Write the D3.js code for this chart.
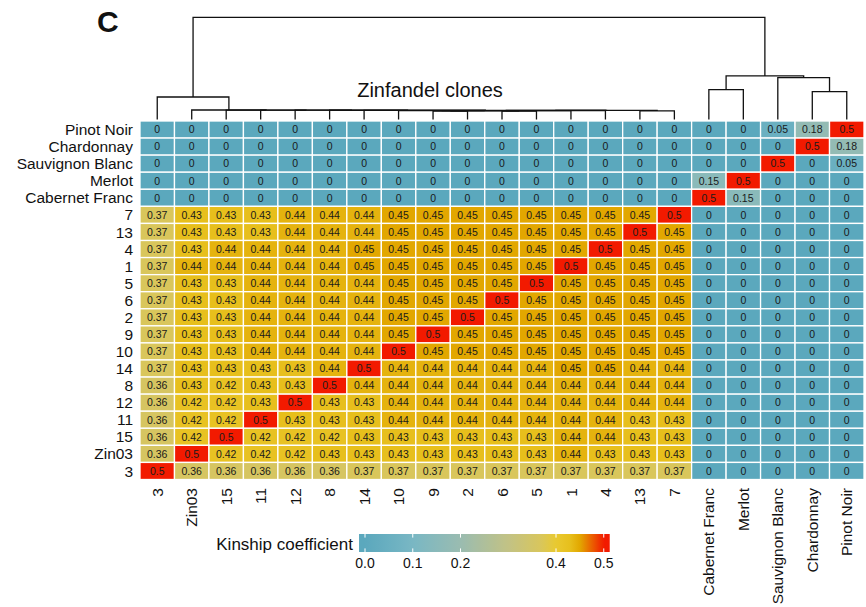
<!DOCTYPE html>
<html><head><meta charset="utf-8">
<script src="https://cdn.jsdelivr.net/npm/d3@7"></script>
<style>
body{margin:0;background:#fff}
svg{display:block}
text{font-family:"Liberation Sans",Arial,Helvetica,sans-serif;fill:#111}
</style>
</head><body>
<svg id="chart" width="866" height="607"></svg>
<script>
// ---------------- data ----------------
const colLabels = ["3","Zin03","15","11","12","8","14","10","9","2","6","5","1","4","13","7",
  "Cabernet Franc","Merlot","Sauvignon Blanc","Chardonnay","Pinot Noir"];
const rowLabels = ["Pinot Noir","Chardonnay","Sauvignon Blanc","Merlot","Cabernet Franc",
  "7","13","4","1","5","6","2","9","10","14","8","12","11","15","Zin03","3"];

// kinship coefficient, one row per rowLabels entry, columns in colLabels order
const kinship = [
  [0,0,0,0,0,0,0,0,0,0,0,0,0,0,0,0, 0,0,0.05,0.18,0.5],
  [0,0,0,0,0,0,0,0,0,0,0,0,0,0,0,0, 0,0,0,0.5,0.18],
  [0,0,0,0,0,0,0,0,0,0,0,0,0,0,0,0, 0,0,0.5,0,0.05],
  [0,0,0,0,0,0,0,0,0,0,0,0,0,0,0,0, 0.15,0.5,0,0,0],
  [0,0,0,0,0,0,0,0,0,0,0,0,0,0,0,0, 0.5,0.15,0,0,0],
  [0.37,0.43,0.43,0.43,0.44,0.44,0.44,0.45,0.45,0.45,0.45,0.45,0.45,0.45,0.45,0.5, 0,0,0,0,0],
  [0.37,0.43,0.43,0.43,0.44,0.44,0.44,0.45,0.45,0.45,0.45,0.45,0.45,0.45,0.5,0.45, 0,0,0,0,0],
  [0.37,0.43,0.44,0.44,0.44,0.44,0.45,0.45,0.45,0.45,0.45,0.45,0.45,0.5,0.45,0.45, 0,0,0,0,0],
  [0.37,0.44,0.44,0.44,0.44,0.44,0.45,0.45,0.45,0.45,0.45,0.45,0.5,0.45,0.45,0.45, 0,0,0,0,0],
  [0.37,0.43,0.43,0.44,0.44,0.44,0.44,0.45,0.45,0.45,0.45,0.5,0.45,0.45,0.45,0.45, 0,0,0,0,0],
  [0.37,0.43,0.43,0.44,0.44,0.44,0.44,0.45,0.45,0.45,0.5,0.45,0.45,0.45,0.45,0.45, 0,0,0,0,0],
  [0.37,0.43,0.43,0.44,0.44,0.44,0.44,0.45,0.45,0.5,0.45,0.45,0.45,0.45,0.45,0.45, 0,0,0,0,0],
  [0.37,0.43,0.43,0.44,0.44,0.44,0.44,0.45,0.5,0.45,0.45,0.45,0.45,0.45,0.45,0.45, 0,0,0,0,0],
  [0.37,0.43,0.43,0.44,0.44,0.44,0.44,0.5,0.45,0.45,0.45,0.45,0.45,0.45,0.45,0.45, 0,0,0,0,0],
  [0.37,0.43,0.43,0.43,0.43,0.44,0.5,0.44,0.44,0.44,0.44,0.44,0.45,0.45,0.44,0.44, 0,0,0,0,0],
  [0.36,0.43,0.42,0.43,0.43,0.5,0.44,0.44,0.44,0.44,0.44,0.44,0.44,0.44,0.44,0.44, 0,0,0,0,0],
  [0.36,0.42,0.42,0.43,0.5,0.43,0.43,0.44,0.44,0.44,0.44,0.44,0.44,0.44,0.44,0.44, 0,0,0,0,0],
  [0.36,0.42,0.42,0.5,0.43,0.43,0.43,0.44,0.44,0.44,0.44,0.44,0.44,0.44,0.43,0.43, 0,0,0,0,0],
  [0.36,0.42,0.5,0.42,0.42,0.42,0.43,0.43,0.43,0.43,0.43,0.43,0.44,0.44,0.43,0.43, 0,0,0,0,0],
  [0.36,0.5,0.42,0.42,0.42,0.43,0.43,0.43,0.43,0.43,0.43,0.43,0.44,0.43,0.43,0.43, 0,0,0,0,0],
  [0.5,0.36,0.36,0.36,0.36,0.36,0.37,0.37,0.37,0.37,0.37,0.37,0.37,0.37,0.37,0.37, 0,0,0,0,0]
];

// dendrogram merges: [left, right, height]; strings = leaves, numbers = earlier merge index
const merges = [
  ["9","2",0.082],            // 0
  ["6","5",0.083],            // 1
  [0,1,0.085],                // 2
  ["10",2,0.086],             // 3
  [3,"1",0.087],              // 4
  [4,"4",0.088],              // 5
  ["13","7",0.084],           // 6
  [5,6,0.089],                // 7
  ["14",7,0.090],             // 8
  ["8",8,0.0905],             // 9
  ["12",9,0.091],             // 10
  ["11",10,0.0915],           // 11
  ["15",11,0.092],            // 12
  ["Zin03",12,0.093],         // 13
  ["3",13,0.22],              // 14
  ["Cabernet Franc","Merlot",0.292], // 15
  ["Chardonnay","Pinot Noir",0.272], // 16
  ["Sauvignon Blanc",16,0.409],      // 17
  [15,17,0.426],              // 18
  [14,18,1.0]                 // 19
];

const legendTicks = [0, 0.1, 0.2, 0.4, 0.5];
const colorStops = [0, 0.1, 0.2, 0.3, 0.37, 0.4, 0.43, 0.45, 0.5];
const colorRange = ["#5BA8BD","#79B7C4","#9ABCB0","#C2C285","#D9C65B","#E9C930","#E7BF1C","#E2A700","#F21A00"];

// ---------------- drawing ----------------
const svg = d3.select("#chart");
const color = d3.scaleLinear().domain(colorStops).range(colorRange).clamp(true);

const x = d3.scaleBand().domain(colLabels).range([140, 864]);
const y = d3.scaleBand().domain(rowLabels).range([121, 479.5]);
const bw = x.bandwidth(), bh = y.bandwidth();

const cells = [];
rowLabels.forEach((r, i) => colLabels.forEach((c, j) => cells.push({r, c, v: kinship[i][j]})));

const g = svg.append("g");
g.selectAll("rect.cell").data(cells).join("rect")
  .attr("class","cell")
  .attr("x", d => x(d.c)).attr("y", d => y(d.r))
  .attr("width", bw).attr("height", bh)
  .attr("fill", d => color(d.v))
  .attr("stroke", "#fff").attr("stroke-width", 1.3);

g.selectAll("text.val").data(cells).join("text")
  .attr("class","val")
  .attr("x", d => x(d.c) + bw/2).attr("y", d => y(d.r) + bh/2)
  .attr("dy","0.36em").attr("text-anchor","middle")
  .style("font-size","10.5px").style("fill","#1a1a1a")
  .text(d => d3.format("")(d.v));

// row labels
svg.append("g").selectAll("text").data(rowLabels).join("text")
  .attr("x", 133).attr("y", d => y(d) + bh/2).attr("dy","0.36em")
  .attr("text-anchor","end").style("font-size","15.5px")
  .text(d => d);

// column labels
svg.append("g").selectAll("text").data(colLabels).join("text")
  .attr("transform", d => `translate(${x(d) + bw/2},488) rotate(-90)`)
  .attr("dy","0.36em").attr("text-anchor","end").style("font-size","15.5px")
  .text(d => d);

// dendrogram
const yH = d3.scaleLinear().domain([0, 1]).range([119.5, 17.3]);
const nodes = [];
function nodeOf(ref) {
  if (typeof ref === "string") return {x: x(ref) + bw/2, h: 0};
  return nodes[ref];
}
const dg = svg.append("g").attr("stroke","#111").attr("stroke-width",1.3).attr("fill","none");
merges.forEach(([a, b, h]) => {
  const na = nodeOf(a), nb = nodeOf(b);
  const n = {x: (na.x + nb.x) / 2, h};
  nodes.push(n);
  const path = d3.path();
  path.moveTo(na.x, yH(na.h)); path.lineTo(na.x, yH(h));
  path.lineTo(nb.x, yH(h)); path.lineTo(nb.x, yH(nb.h));
  dg.append("path").attr("d", path.toString());
});

// titles
svg.append("text").attr("x", 97).attr("y", 32)
  .style("font-size","30px").style("font-weight","bold").text("C");
svg.append("text").attr("x", 430).attr("y", 97).attr("text-anchor","middle")
  .style("font-size","20px").text("Zinfandel clones");

// legend
const lx = d3.scaleLinear().domain([0, 0.5]).range([365, 603.75]);
const lDom = [-0.0125, 0.5125];
const defs = svg.append("defs");
const grad = defs.append("linearGradient").attr("id","kgrad")
  .attr("x1","0%").attr("x2","100%").attr("y1","0%").attr("y2","0%");
d3.range(0, 51).forEach(i => {
  const t = i / 50, v = lDom[0] + t * (lDom[1] - lDom[0]);
  grad.append("stop").attr("offset", (t*100) + "%").attr("stop-color", color(v));
});
const leg = svg.append("g");
leg.append("rect").attr("x", lx(lDom[0])).attr("y", 534)
  .attr("width", lx(lDom[1]) - lx(lDom[0])).attr("height", 18)
  .attr("fill","url(#kgrad)");
leg.selectAll("line.t1").data(legendTicks).join("line")
  .attr("x1", d => lx(d)).attr("x2", d => lx(d)).attr("y1", 534).attr("y2", 537.6)
  .attr("stroke","#fff").attr("stroke-width",1);
leg.selectAll("line.t2").data(legendTicks).join("line")
  .attr("x1", d => lx(d)).attr("x2", d => lx(d)).attr("y1", 548.4).attr("y2", 552)
  .attr("stroke","#fff").attr("stroke-width",1);
leg.selectAll("text.tl").data(legendTicks).join("text")
  .attr("x", d => lx(d)).attr("y", 568).attr("text-anchor","middle")
  .style("font-size","14px").text(d => d3.format(".1f")(d));
leg.append("text").attr("x", 353).attr("y", 550).attr("text-anchor","end")
  .style("font-size","17px").text("Kinship coefficient");
</script>
</body></html>
